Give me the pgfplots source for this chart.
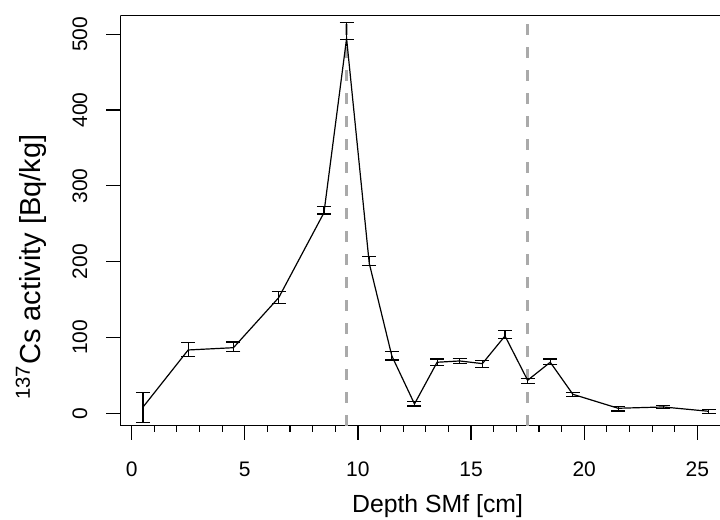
\documentclass[border=0pt]{standalone}
\usepackage{pgfplots}
\pgfplotsset{compat=1.18}
\usepackage{fontspec}
\setmainfont{Liberation Sans}
\definecolor{dashgray}{RGB}{170,170,170}
\begin{document}
\begin{tikzpicture}
\useasboundingbox (-60.15pt,-47.15pt) rectangle (299.85pt,212.85pt);
\begin{axis}[
  scale only axis,
  width=299.85pt, height=205pt,
  at={(0,0)}, anchor=south west,
  xmin=-0.5, xmax=26,
  ymin=-16.4, ymax=524.5,
  axis lines*=left,
  axis line style={line width=0.6pt, black},
  tick align=outside,
  tick style={line width=0.6pt, black},
  major tick length=7pt,
  minor tick length=3pt,
  xtick={0,5,10,15,20,25},
  minor xtick={1,2,3,4,6,7,8,9,11,12,13,14,16,17,18,19,21,22,23,24},
  ytick={0,100,200,300,400,500},
  /pgf/number format/assume math mode=true,
  xticklabel style={font=\fontsize{10.5}{12}\selectfont, anchor=center},
  xticklabel shift=14.8pt,
  yticklabel style={font=\fontsize{10.5}{12}\selectfont, rotate=90, anchor=center},
  yticklabel shift=13.15pt,
  xlabel={Depth SMf [cm]},
  ylabel={\textsuperscript{137}Cs activity [Bq/kg]},
  every axis x label/.style={at={([yshift=-43.5pt,xshift=8.7pt]axis description cs:0.5,0)}, anchor=base, font=\fontsize{12.4}{14}\selectfont},
  every axis y label/.style={at={([xshift=-44.65pt]axis description cs:0,0.387)}, rotate=90, anchor=center, font=\fontsize{14.5}{16}\selectfont},
]
\draw[dashgray, line width=1.5pt, dash pattern=on 5.5pt off 6pt] (axis cs:9.5,-16.4) -- (axis cs:9.5,524.5);
\draw[dashgray, line width=1.5pt, dash pattern=on 5.5pt off 6pt] (axis cs:17.5,-16.4) -- (axis cs:17.5,524.5);
\addplot[black, line width=0.6pt, mark=none,
  error bars/.cd, y dir=both, y explicit,
  error bar style={line width=0.6pt, black},
  error mark options={black, line width=0.6pt, mark size=3.5pt, rotate=90}]
coordinates {
(0.5,8) += (0,19.5) -= (0,20)
(2.5,83.5) += (0,9.5) -= (0,9)
(4.5,86.5) += (0,7.5) -= (0,5.5)
(6.5,152.5) += (0,8.5) -= (0,8)
(8.5,264.6) += (0,8) -= (0,1.6)
(9.5,494.5) += (0,21) -= (0,1)
(10.5,198) += (0,8.6) -= (0,2.7)
(11.5,75.6) += (0,5.7) -= (0,5.3)
(12.5,12.3) += (0,2.7) -= (0,2.7)
(13.5,67.3) += (0,4.3) -= (0,4.5)
(14.5,69) += (0,3.2) -= (0,3)
(15.5,65.5) += (0,4.5) -= (0,5.5)
(16.5,102) += (0,7) -= (0,3.6)
(17.5,43.5) += (0,2.1) -= (0,3.9)
(18.5,67.3) += (0,4.3) -= (0,2.7)
(19.5,25) += (0,2.7) -= (0,2.6)
(21.5,6.6) += (0,2.1) -= (0,3.6)
(23.5,8.3) += (0,2.2) -= (0,2.3)
(25.5,2.6) += (0,2.7) -= (0,2.6)
};
\draw[line width=0.6pt, black] (rel axis cs:0,1) -- (rel axis cs:1,1);
\end{axis}
\end{tikzpicture}
\end{document}
